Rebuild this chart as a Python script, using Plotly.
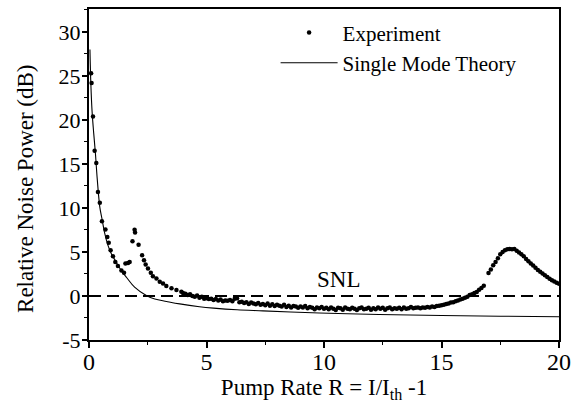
import plotly.graph_objects as go

# ---- data ----
theory_R = [0.04, 0.08, 0.13, 0.2, 0.27, 0.35, 0.46, 0.55, 0.67, 0.8, 0.95, 1.1, 1.23, 1.4, 1.6,
            1.94, 2.44, 2.8, 3.3, 3.86, 4.7, 5.3, 6.3, 7.4, 9.2, 11, 13, 15, 17.5, 20]
theory_V = [28, 24, 21, 18.5, 16.3, 13.3, 10.1, 8.8, 7.1, 5.8, 4.8, 4.1, 3.5, 2.8, 2.1,
            1.0, 0.05, -0.35, -0.62, -0.9, -1.22, -1.38, -1.57, -1.69, -1.88, -2.02, -2.13, -2.22, -2.3, -2.36]

exp_R_low = [0.09, 0.11, 0.17, 0.24, 0.31, 0.38, 0.46, 0.55, 0.70, 0.78, 0.84, 0.92, 1.02, 1.12, 1.23,
             1.38, 1.49, 1.55, 1.66, 1.73, 1.85, 1.94, 1.96, 2.11, 2.26, 2.34, 2.41, 2.51, 2.63, 2.72,
             2.87, 3.01, 3.15, 3.29, 3.51, 3.72, 3.93, 4.0]
exp_V_low = [25.3, 24.2, 20.4, 16.5, 15.1, 11.8, 10.6, 8.5, 7.55, 6.7, 6.05, 5.2, 4.5, 3.86, 3.4,
             2.9, 2.63, 3.7, 3.75, 3.87, 6.23, 7.52, 7.2, 5.83, 4.62, 4.06, 3.57, 3.12, 2.63, 2.25,
             2.0, 1.61, 1.43, 1.13, 0.87, 0.68, 0.48, 0.35]

exp_R_mid = [4.1, 4.2, 4.3, 4.4, 4.5, 4.6, 4.7, 4.8, 4.9, 5.0,
             5.1, 5.2, 5.3, 5.4, 5.5, 5.6, 5.7, 5.8, 5.9, 6.0,
             6.1, 6.2, 6.3, 6.4, 6.5, 6.6, 6.7, 6.8, 6.9, 7.0,
             7.1, 7.2, 7.3, 7.4, 7.5, 7.6, 7.7, 7.8, 7.9, 8.0,
             8.1, 8.2, 8.3, 8.4, 8.5, 8.6, 8.7, 8.8, 8.9, 9.0,
             9.1, 9.2, 9.3, 9.4, 9.5, 9.6, 9.7, 9.8, 9.9, 10.0,
             10.1, 10.2, 10.3, 10.4, 10.5, 10.6, 10.7, 10.8, 10.9, 11.0,
             11.1, 11.2, 11.3, 11.4, 11.5, 11.6, 11.7, 11.8, 11.9, 12.0,
             12.1, 12.2, 12.3, 12.4, 12.5, 12.6, 12.7, 12.8, 12.9, 13.0,
             13.1, 13.2, 13.3, 13.4, 13.5, 13.6, 13.7, 13.8, 13.9, 14.0,
             14.1, 14.2, 14.3, 14.4, 14.5, 14.6, 14.7, 14.8, 14.9]
exp_V_mid = [0.25, 0.1, 0.2, 0.0, -0.1, 0.05, -0.2, -0.1, -0.3, -0.25,
             -0.35, -0.3, -0.45, -0.35, -0.5, -0.4, -0.6, -0.5, -0.55, -0.45,
             -0.6, -0.3, -0.25, -0.7, -0.65, -0.8, -0.7, -0.9, -0.75, -0.85,
             -0.95, -0.8, -1.0, -0.9, -1.05, -0.85, -1.1, -0.95, -1.15, -1.0,
             -1.1, -1.2, -1.0, -1.25, -1.1, -1.3, -1.15, -1.2, -1.35, -1.2,
             -1.3, -1.15, -1.4, -1.25, -1.35, -1.5, -1.3, -1.4, -1.25, -1.45,
             -1.35, -1.5, -1.3, -1.45, -1.6, -1.35, -1.4, -1.55, -1.3, -1.45,
             -1.5, -1.35, -1.45, -1.6, -1.4, -1.3, -1.5, -1.45, -1.35, -1.55,
             -1.4, -1.5, -1.3, -1.45, -1.35, -1.55, -1.4, -1.3, -1.5, -1.4,
             -1.45, -1.35, -1.5, -1.3, -1.45, -1.4, -1.25, -1.4, -1.35, -1.3,
             -1.4, -1.3, -1.35, -1.25, -1.3, -1.2, -1.25, -1.15, -1.1]

exp_R_high = [15.0, 15.1, 15.2, 15.3, 15.4, 15.5, 15.6, 15.7, 15.8, 15.9, 16.0, 16.1, 16.2, 16.3,
              16.4, 16.5, 16.6, 16.7, 16.8, 17.0, 17.1, 17.2, 17.3, 17.4, 17.5, 17.6, 17.7, 17.8,
              17.9, 18.0, 18.1, 18.2, 18.3, 18.4, 18.5, 18.6, 18.7, 18.8, 18.9, 19.0, 19.1, 19.2,
              19.3, 19.4, 19.5, 19.6, 19.7, 19.8, 19.9, 20.0]
exp_V_high = [-1.05, -1.0, -0.9, -0.85, -0.75, -0.7, -0.6, -0.5, -0.4, -0.3, -0.2, -0.1, 0.1, 0.2,
              0.35, 0.45, 0.7, 0.9, 1.15, 2.6, 3.0, 3.5, 3.85, 4.3, 4.75, 5.0, 5.2, 5.3,
              5.35, 5.3, 5.35, 5.15, 4.95, 4.75, 4.5, 4.2, 3.95, 3.7, 3.45, 3.2, 2.95, 2.75,
              2.55, 2.35, 2.15, 1.95, 1.8, 1.65, 1.5, 1.4]

exp_R = exp_R_low + exp_R_mid + exp_R_high
exp_V = exp_V_low + exp_V_mid + exp_V_high

snl_R = [0, 20]
snl_V = [0, 0]

x_ticks = [0, 5, 10, 15, 20]
y_ticks = [-5, 0, 5, 10, 15, 20, 25, 30]

FONT = "Liberation Serif, Times New Roman, serif"

fig = go.Figure()
fig.add_trace(go.Scatter(x=snl_R, y=snl_V, mode="lines", showlegend=False,
                         line=dict(color="black", width=1.8, dash="12px,6px"), hoverinfo="skip"))
fig.add_trace(go.Scatter(x=exp_R, y=exp_V, mode="markers", name="Experiment",
                         marker=dict(color="black", size=4.5, symbol="circle")))
fig.add_trace(go.Scatter(x=theory_R, y=theory_V, mode="lines", name="Single Mode Theory",
                         line=dict(color="black", width=1.1, shape="spline", smoothing=1.0)))

fig.update_layout(
    width=579, height=405,
    margin=dict(l=89, r=20, t=7, b=65),
    paper_bgcolor="white", plot_bgcolor="white",
    font=dict(family=FONT, color="black", size=21),
    legend=dict(x=0.397, y=0.99, xanchor="left", yanchor="top",
                bgcolor="rgba(0,0,0,0)", borderwidth=0, itemwidth=57,
                font=dict(family=FONT, size=21, color="black"), tracegroupgap=0),
    xaxis=dict(range=[0, 20], tickvals=x_ticks, ticktext=[str(v) for v in x_ticks],
               showline=True, linecolor="black", linewidth=2, mirror=True,
               ticks="outside", ticklen=6, tickwidth=1.5, tickcolor="black",
               minor=dict(dtick=2.5, ticks="outside", ticklen=3, tickwidth=1.2, tickcolor="black"),
               showgrid=False, zeroline=False, ticklabelstandoff=-7,
               tickfont=dict(family=FONT, size=24),
               title=dict(text="Pump Rate R = I/I<sub>th</sub> -1",
                          font=dict(family=FONT, size=23), standoff=2)),
    yaxis=dict(range=[-5, 32.6], tickvals=y_ticks, ticktext=[str(v) for v in y_ticks],
               showline=True, linecolor="black", linewidth=2, mirror=True,
               ticks="outside", ticklen=5, tickwidth=1.5, tickcolor="black",
               minor=dict(dtick=2.5, ticks="outside", ticklen=3, tickwidth=1.2, tickcolor="black"),
               showgrid=False, zeroline=False, ticklabelstandoff=-3,
               tickfont=dict(family=FONT, size=22)),
    annotations=[
        dict(text="Relative Noise Power (dB)", textangle=-90, xref="paper", yref="paper",
             x=-0.135, y=0.455, xanchor="center", yanchor="middle", showarrow=False,
             font=dict(family=FONT, size=23, color="black")),
        dict(text="SNL", xref="x", yref="y", x=10.6, y=1.85, showarrow=False,
             xanchor="center", yanchor="middle", font=dict(family=FONT, size=23, color="black")),
    ],
)

fig.write_html("out.html", config={"displayModeBar": False},
               post_script="document.body.style.margin='0';document.body.style.overflow='hidden';")
